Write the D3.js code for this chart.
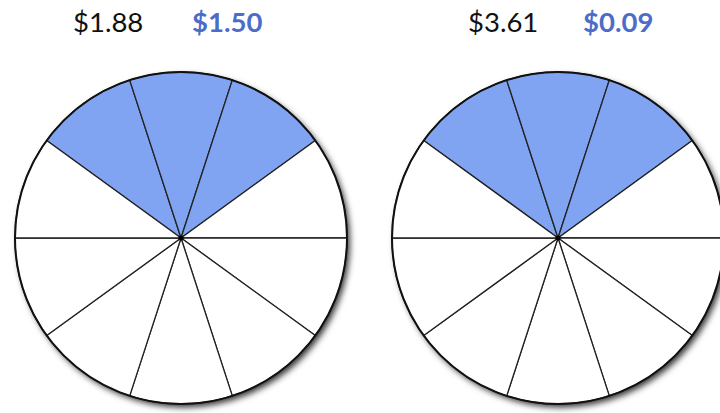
<!DOCTYPE html>
<html><head><meta charset="utf-8">
<script src="https://cdn.jsdelivr.net/npm/d3@7/dist/d3.min.js"></script>
<style>html,body{margin:0;padding:0;background:#fff;overflow:hidden}</style>
</head><body>
<svg id="chart" width="720" height="413"></svg>
<script>
// Data
const pieNames = ["left", "right"];
const priceLabels = ["$1.88", "$3.61"];
const highlightLabels = ["$1.50", "$0.09"];
const sliceValues = [1, 1, 1, 1, 1, 1, 1, 1, 1, 1];
const shadedSlices = [true, true, true, false, false, false, false, false, false, false];

const svg = d3.select("#chart");
const defs = svg.append("defs");
const f = defs.append("filter").attr("id", "shadow")
  .attr("x", "-20%").attr("y", "-20%").attr("width", "140%").attr("height", "140%");
f.append("feDropShadow").attr("dx", 3).attr("dy", 3.5).attr("stdDeviation", 3)
  .attr("flood-color", "#000").attr("flood-opacity", 0.8);

const centers = d3.scaleOrdinal().domain(pieNames).range([181, 558]);
const priceX = d3.scaleOrdinal().domain(pieNames).range([73, 468]);
const highlightX = d3.scaleOrdinal().domain(pieNames).range([192, 583]);
const cy = 238, r = 166;
const deg = Math.PI / 180;
const pie = d3.pie().sort(null).value(d => d)
  .startAngle(-54 * deg).endAngle(306 * deg);
const arc = d3.arc().innerRadius(0).outerRadius(r);

pieNames.forEach((name, i) => {
  const cx = centers(name);
  const g = svg.append("g").attr("transform", `translate(${cx},${cy})`);
  g.append("circle").attr("r", r).attr("fill", "#fff").attr("filter", "url(#shadow)");
  g.selectAll("path.slice").data(pie(sliceValues)).join("path")
    .attr("class", "slice")
    .attr("d", arc)
    .attr("fill", (d, j) => shadedSlices[j] ? "#80a3f2" : "#ffffff")
    .attr("stroke", "#222")
    .attr("stroke-width", 1.3)
    .attr("stroke-linejoin", "round");
  g.append("circle").attr("r", r).attr("fill", "none").attr("stroke", "#111").attr("stroke-width", 2);
  g.append("circle").attr("r", 2.5).attr("fill", "#000");

  svg.append("text").attr("x", priceX(name)).attr("y", 32)
    .attr("font-family", "Lato, 'Open Sans', sans-serif").attr("font-size", 27.5)
    .attr("fill", "#111").text(priceLabels[i]);
  svg.append("text").attr("x", highlightX(name)).attr("y", 32)
    .attr("font-family", "Lato, 'Open Sans', sans-serif").attr("font-size", 27.5)
    .attr("font-weight", "bold").attr("fill", "#4d6cc9").text(highlightLabels[i]);
});
</script>
</body></html>
